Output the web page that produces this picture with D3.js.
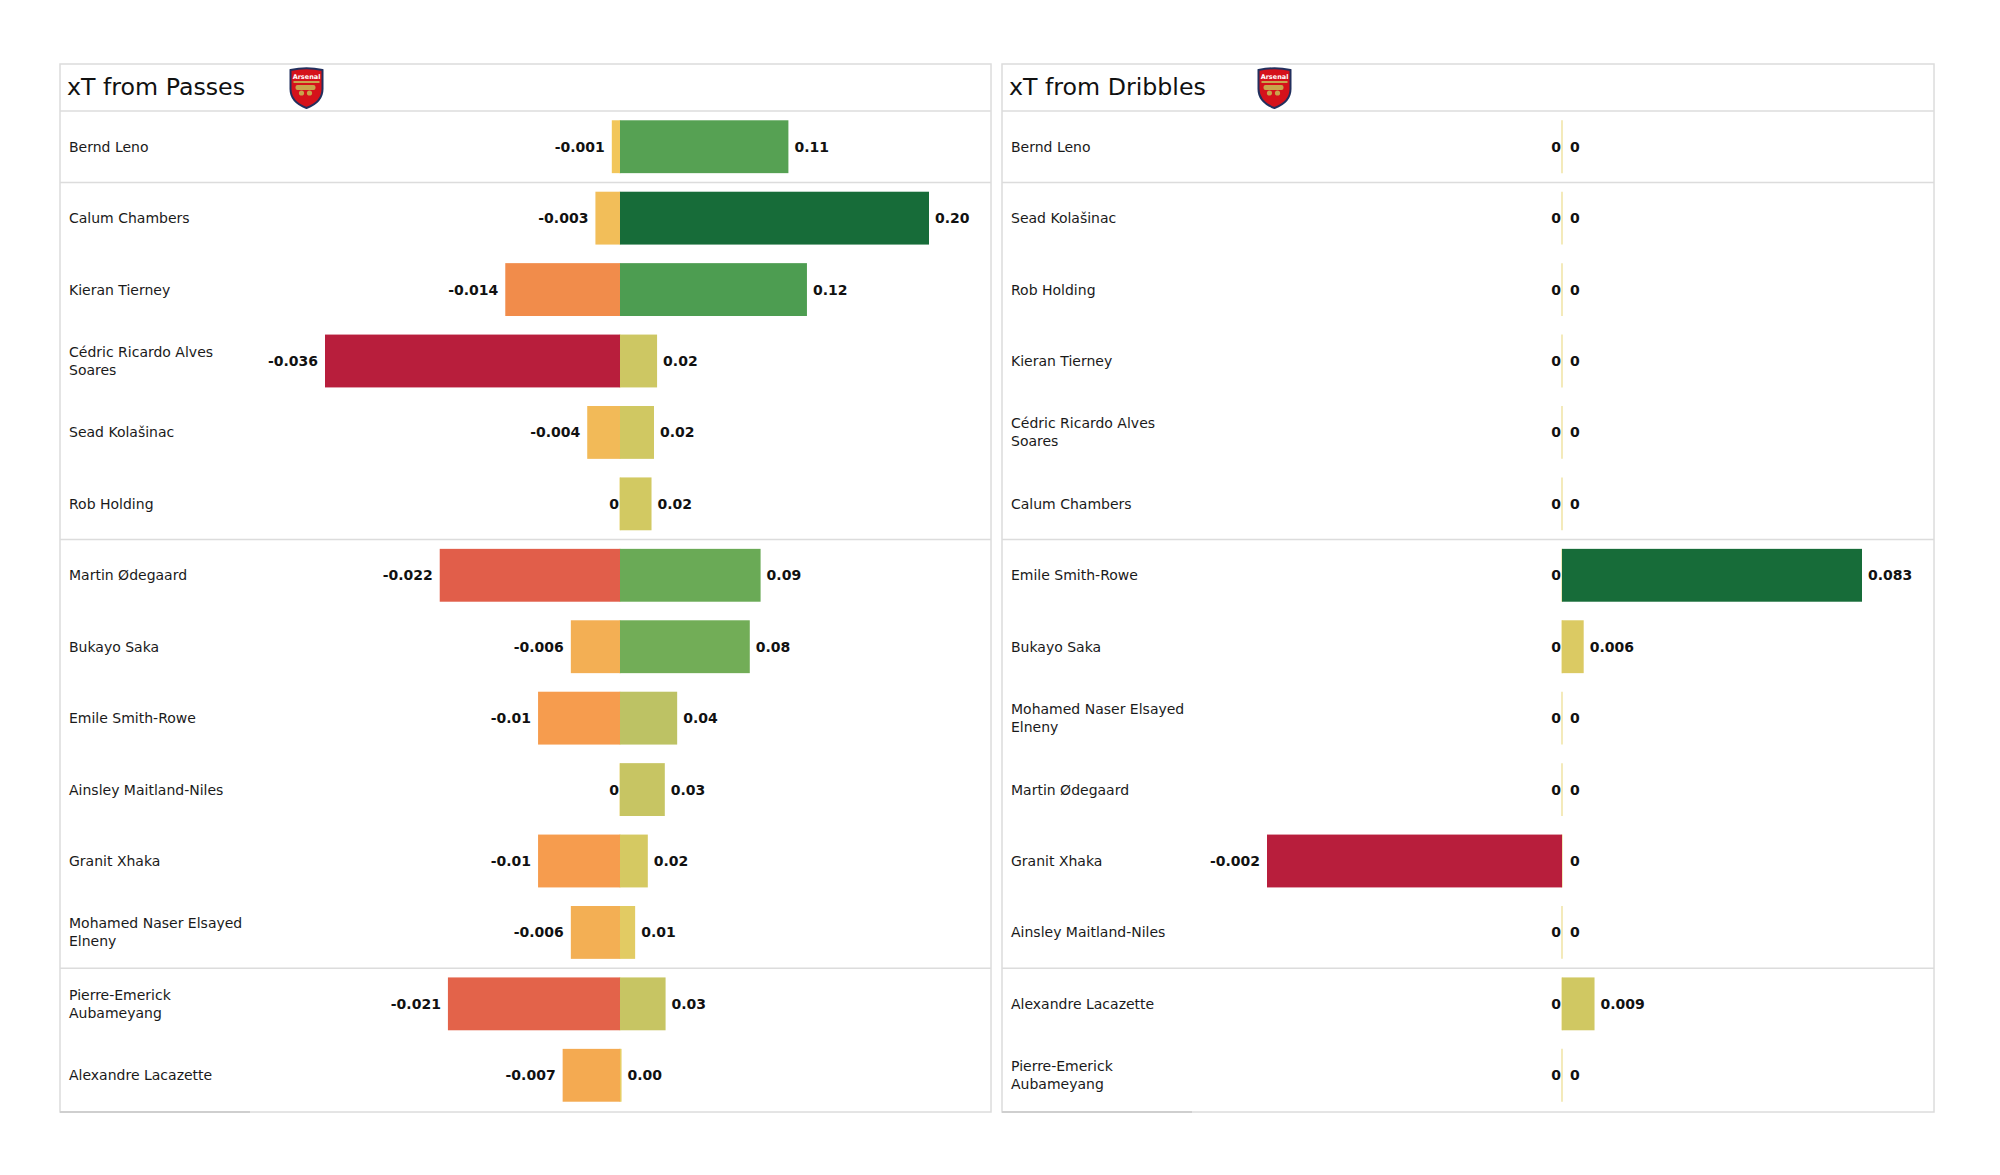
<!DOCTYPE html>
<html><head><meta charset="utf-8">
<script src="https://cdn.jsdelivr.net/npm/d3@7"></script>
<style>
body{margin:0;background:#fff}
svg{display:block}
text{font-family:"DejaVu Sans",sans-serif}
</style>
</head><body>
<svg id="chart" width="2000" height="1175"></svg>
<script>
// ---------- DATA ----------
const passTitle = "xT from Passes";
const passPlayers = ["Bernd Leno","Calum Chambers","Kieran Tierney","Cédric Ricardo Alves Soares","Sead Kolašinac","Rob Holding",
  "Martin Ødegaard","Bukayo Saka","Emile Smith-Rowe","Ainsley Maitland-Niles","Granit Xhaka","Mohamed Naser Elsayed Elneny",
  "Pierre-Emerick Aubameyang","Alexandre Lacazette"];
const passNeg = [-0.001,-0.003,-0.014,-0.036,-0.004,0,-0.022,-0.006,-0.01,0,-0.01,-0.006,-0.021,-0.007];
const passPos = [0.109,0.20,0.121,0.024,0.022,0.0204,0.091,0.084,0.037,0.029,0.018,0.0098,0.0295,0.001];
const passGroups = [1,5,6,2];

const dribTitle = "xT from Dribbles";
const dribPlayers = ["Bernd Leno","Sead Kolašinac","Rob Holding","Kieran Tierney","Cédric Ricardo Alves Soares","Calum Chambers",
  "Emile Smith-Rowe","Bukayo Saka","Mohamed Naser Elsayed Elneny","Martin Ødegaard","Granit Xhaka","Ainsley Maitland-Niles",
  "Alexandre Lacazette","Pierre-Emerick Aubameyang"];
const dribNeg = [0,0,0,0,0,0,0,0,0,0,-0.002,0,0,0];
const dribPos = [0,0,0,0,0,0,0.083,0.006,0,0,0,0,0.009,0];
const dribGroups = [1,5,6,2];

// ---------- STYLE ----------
const negColor = d3.scaleLinear()
  .domain([0,0.1,0.2,0.3,0.4,0.6,1])
  .range(["#f2ca5b","#f2bc59","#f4a951","#f7984d","#f08a4b","#e2604a","#b81e3c"]);
const posColor = d3.scaleLinear()
  .domain([0,0.05,0.1,0.18,0.42,0.55,0.6,1])
  .range(["#e8cd63","#e2cb63","#d2c962","#bfc264","#72ad57","#55a053","#4e9e51","#176c39"]);

const panels = [
  {title:passTitle, players:passPlayers, neg:passNeg, pos:passPos, groups:passGroups, x0:60, w:931, posLen:309, dec:2, logoX:289},
  {title:dribTitle, players:dribPlayers, neg:dribNeg, pos:dribPos, groups:dribGroups, x0:1002, w:932, posLen:300, dec:3, logoX:1257}
];

const svg = d3.select("#chart");
const TOP = 64, HEAD = 111, BOTTOM = 1111;
const border = "#dcdcdc";

function wrap(name, width) {
  const words = name.split(" "); const lines = []; let cur = "";
  words.forEach(w => {
    const t = cur ? cur + " " + w : w;
    if (t.length > width && cur) { lines.push(cur); cur = w; } else cur = t;
  });
  if (cur) lines.push(cur);
  return lines;
}

function drawLogo(g) {
  g.append("path")
    .attr("d","M-16,-18 Q0,-21.5 16,-18 L16,1 Q16,14 0,20 Q-16,14 -16,1 Z")
    .attr("fill","#d5121b").attr("stroke","#23305e").attr("stroke-width",2);
  g.append("text").attr("x",0).attr("y",-9.5).attr("text-anchor","middle")
    .attr("font-size",6.5).attr("font-weight","bold").attr("fill","#fff").text("Arsenal");
  g.append("rect").attr("x",-13).attr("y",-7).attr("width",26).attr("height",2).attr("fill","#c9a44c");
  g.append("rect").attr("x",-11).attr("y",-3).attr("width",20).attr("height",5).attr("rx",2).attr("fill","#c9a44c");
  g.append("circle").attr("cx",-5).attr("cy",5).attr("r",2.6).attr("fill","#c9a44c");
  g.append("circle").attr("cx",3).attr("cy",5).attr("r",2.6).attr("fill","#c9a44c");
}

panels.forEach(p => {
  const g = svg.append("g");
  const n = p.players.length;
  // frame
  g.append("rect").attr("x",p.x0).attr("y",TOP).attr("width",p.w).attr("height",1112-TOP)
    .attr("fill","#fff").attr("stroke",border).attr("stroke-width",1.5);
  g.append("line").attr("x1",p.x0).attr("x2",p.x0+190).attr("y1",1112).attr("y2",1112)
    .attr("stroke","#cfcfcf").attr("stroke-width",2);
  g.append("line").attr("x1",p.x0).attr("x2",p.x0+p.w).attr("y1",HEAD).attr("y2",HEAD)
    .attr("stroke",border).attr("stroke-width",1.5);
  // title
  g.append("text").attr("x",p.x0+7).attr("y",95).attr("font-size",23.7).attr("fill","#111").text(p.title);
  drawLogo(g.append("g").attr("transform",`translate(${p.logoX+17.5},88)`));

  const y = d3.scaleBand().domain(d3.range(n)).range([HEAD,BOTTOM]).paddingInner(0.26).paddingOuter(0.13);
  const step = y.step();
  // group separators
  let cum = 0;
  p.groups.slice(0,-1).forEach(s => {
    cum += s;
    g.append("line").attr("x1",p.x0).attr("x2",p.x0+p.w)
      .attr("y1",HEAD+cum*step).attr("y2",HEAD+cum*step)
      .attr("stroke",border).attr("stroke-width",1.5);
  });

  const zero = p.x0 + 560;
  const maxNeg = d3.max(p.neg, v => Math.abs(v)) || 1;
  const maxPos = d3.max(p.pos) || 1;
  const xNeg = d3.scaleLinear().domain([0,maxNeg]).range([zero, zero-295]);
  const xPos = d3.scaleLinear().domain([0,maxPos]).range([zero, zero+p.posLen]);

  const rows = p.players.map((name,i) => ({name, i, neg:p.neg[i], pos:p.pos[i]}));
  const row = g.selectAll("g.row").data(rows).enter().append("g").attr("class","row");

  row.append("line").attr("x1",zero).attr("x2",zero)
    .attr("y1",d=>y(d.i)).attr("y2",d=>y(d.i)+y.bandwidth())
    .attr("stroke","#ecdc8c").attr("stroke-width",1.2);

  row.filter(d=>d.neg!==0).append("rect")
    .attr("x",d=>xNeg(Math.abs(d.neg))).attr("y",d=>y(d.i))
    .attr("width",d=>zero-xNeg(Math.abs(d.neg))).attr("height",y.bandwidth())
    .attr("fill",d=>negColor(Math.abs(d.neg)/maxNeg));
  row.filter(d=>d.pos!==0).append("rect")
    .attr("x",zero).attr("y",d=>y(d.i))
    .attr("width",d=>xPos(d.pos)-zero).attr("height",y.bandwidth())
    .attr("fill",d=>posColor(d.pos/maxPos));

  const cy = d => y(d.i) + y.bandwidth()/2;
  row.append("text").attr("text-anchor","end").attr("font-size",14).attr("font-weight","bold").attr("fill","#111")
    .attr("x",d=> d.neg===0 ? zero-1 : xNeg(Math.abs(d.neg))-7)
    .attr("y",d=>cy(d)+5)
    .text(d=> d.neg===0 ? "0" : String(+d.neg.toFixed(3)));
  row.append("text").attr("text-anchor","start").attr("font-size",14).attr("font-weight","bold").attr("fill","#111")
    .attr("x",d=> d.pos===0 ? zero+8 : xPos(d.pos)+6)
    .attr("y",d=>cy(d)+5)
    .text(d=> d.pos===0 ? "0" : d.pos.toFixed(p.dec));

  row.each(function(d){
    const lines = wrap(d.name, 22);
    const t = d3.select(this).append("text").attr("font-size",14).attr("fill","#1a1a1a");
    lines.forEach((l,k) => {
      t.append("tspan").attr("x",p.x0+9)
        .attr("y", cy(d) + 5 + (k - (lines.length-1)/2)*18).text(l);
    });
  });
});
</script>
</body></html>
